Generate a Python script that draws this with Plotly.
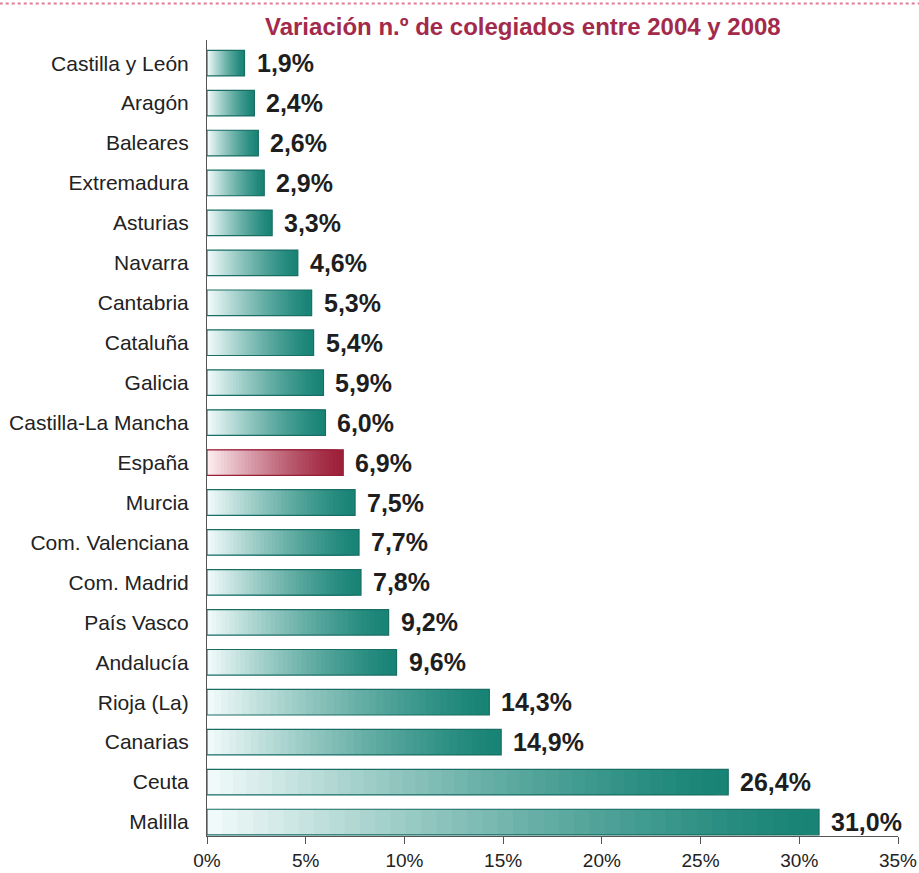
import plotly.graph_objects as go

categories = ["Castilla y León", "Aragón", "Baleares", "Extremadura", "Asturias", "Navarra",
              "Cantabria", "Cataluña", "Galicia", "Castilla-La Mancha", "España", "Murcia",
              "Com. Valenciana", "Com. Madrid", "País Vasco", "Andalucía", "Rioja (La)",
              "Canarias", "Ceuta", "Malilla"]
values = [1.9, 2.4, 2.6, 2.9, 3.3, 4.6, 5.3, 5.4, 5.9, 6.0, 6.9, 7.5, 7.7, 7.8, 9.2, 9.6,
          14.3, 14.9, 26.4, 31.0]
highlight = "España"
xticks = [0, 5, 10, 15, 20, 25, 30, 35]
title = "Variación n.º de colegiados entre 2004 y 2008"


def mix(c1, c2, t):
    return "rgb({},{},{})".format(*[round(a + (b - a) * t) for a, b in zip(c1, c2)])


teal_dark, teal_light = (24, 132, 118), (240, 250, 250)
red_dark, red_light = (158, 32, 58), (252, 236, 240)

fig = go.Figure()
steps = 40
for k in range(steps):
    frac = 1 - k / steps  # decreasing lengths, lighter on top
    t = (k / (steps - 1)) ** 1.3
    cols = [mix(red_dark if c == highlight else teal_dark,
                red_light if c == highlight else teal_light, t) for c in categories]
    fig.add_trace(go.Bar(
        y=categories, x=[v * frac for v in values], orientation="h",
        marker=dict(color=cols, line=dict(width=0)),
        width=0.64, hoverinfo="skip", showlegend=False))

# outline
outline = ["rgb(150,30,55)" if c == highlight else "rgb(25,110,100)" for c in categories]
fig.add_trace(go.Bar(
    y=categories, x=values, orientation="h", width=0.64,
    marker=dict(color="rgba(0,0,0,0)", line=dict(color=outline, width=1.2)),
    hoverinfo="skip", showlegend=False))

for c, v in zip(categories, values):
    fig.add_annotation(x=v, y=c, text="<b>" + f"{v:.1f}".replace(".", ",") + "%</b>",
                       showarrow=False, xanchor="left", xshift=10,
                       font=dict(family="Liberation Sans, Arial", size=25, color="#1e1e1e"))

fig.add_annotation(x=0.5, y=1, xref="paper", yref="paper", yanchor="bottom", yshift=-2,
                   xshift=-30, text=f"<b>{title}</b>", showarrow=False,
                   font=dict(family="Liberation Sans, Arial", size=24, color="#a32a4b"))

fig.add_shape(type="line", xref="paper", yref="paper", x0=-0.3, x1=1.05, y0=1.046, y1=1.046,
              line=dict(color="#e07a95", width=2, dash="dot"))

fig.update_layout(
    width=919, height=873, barmode="overlay",
    margin=dict(l=207, r=21, t=40, b=37, autoexpand=False),
    paper_bgcolor="white", plot_bgcolor="white",
    font=dict(family="Liberation Sans, Arial", color="#222222"),
    xaxis=dict(range=[0, 35], tickvals=xticks, ticktext=[f"{t}%" for t in xticks],
               showgrid=False, zeroline=False, showline=True, linecolor="#555555",
               linewidth=1, ticks="outside", ticklen=7, tickcolor="#555555",
               automargin=False, tickfont=dict(size=19, color="#222222")),
    yaxis=dict(range=[19.35, -0.58], showgrid=False, zeroline=False, showline=True,
               linecolor="#555555", linewidth=1, ticks="", ticklabelstandoff=13,
               automargin=False, tickfont=dict(size=21, color="#222222")),
)

fig.write_html("out.html", config={"displayModeBar": False},
               post_script="document.body.style.margin='0px';")
